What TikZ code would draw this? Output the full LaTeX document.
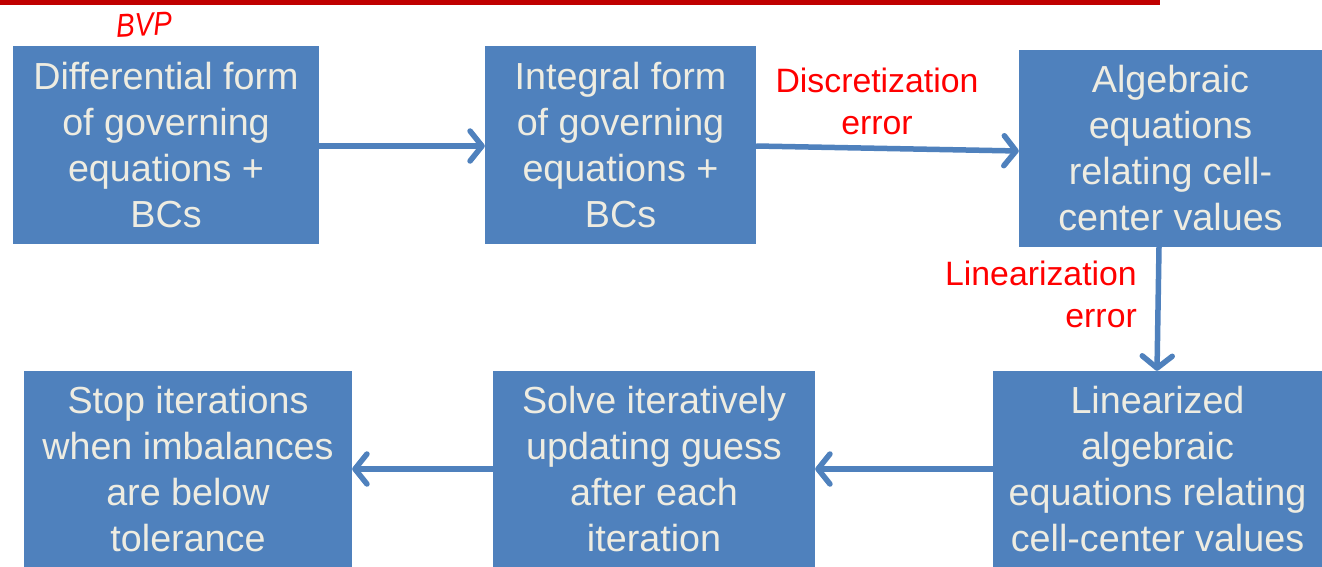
\documentclass[tikz,border=0pt]{standalone}
\usepackage{fontspec}
\setmainfont{Liberation Sans}
\usetikzlibrary{arrows.meta}
\definecolor{boxblue}{HTML}{4F81BD}
\definecolor{boxtext}{HTML}{EEECE1}
\definecolor{barred}{HTML}{C00000}
\tikzset{
  flowbox/.style={fill=boxblue, draw=none, text=boxtext, align=center, inner sep=0pt,
    font=\fontsize{37.7}{46}\selectfont},
  flowarrow/.style={draw=boxblue, line width=5.5pt,
    -{Straight Barb[length=12pt,width=30pt,line cap=round,line join=round]}},
  errlabel/.style={text=red, inner sep=0pt, font=\fontsize{33.8}{42}\selectfont}
}
\begin{document}
\begin{tikzpicture}[x=1pt,y=-1pt]
\useasboundingbox (0,0) rectangle (1322,566);
\fill[white] (0,0) rectangle (1322,566);
% top bar
\fill[barred] (0,0) rectangle (1160,5);
% handwritten note
\node[text=red, inner sep=0pt, rotate=3, xscale=0.85, font=\fontsize{33}{33}\selectfont\itshape] (bvp) at (144,25) {BVP};
% boxes
\node[flowbox, minimum width=306pt, minimum height=198pt] (b1) at (166,145) {Differential form\\of governing\\equations +\\BCs};
\node[flowbox, minimum width=271pt, minimum height=198pt] (b2) at (620.5,145) {Integral form\\of governing\\equations +\\BCs};
\node[flowbox, minimum width=303pt, minimum height=197pt] (b3) at (1170.5,148.5) {Algebraic\\equations\\relating cell-\\center values};
\node[flowbox, minimum width=329pt, minimum height=196pt] (b6) at (1157.5,469) {Linearized\\algebraic\\equations relating\\cell-center values};
\node[flowbox, minimum width=322pt, minimum height=196pt] (b5) at (654,469) {Solve iteratively\\updating guess\\after each\\iteration};
\node[flowbox, minimum width=328pt, minimum height=196pt] (b4) at (188,469) {Stop iterations\\when imbalances\\are below\\tolerance};
% error labels
\node[errlabel, align=center] (disc) at (877,101) {Discretization\\error};
\node[errlabel, align=right, anchor=east] (lin) at (1137,294) {Linearization\\error};
% arrows
\coordinate (a1s) at (b1.east |- 0,146);
\coordinate (a1e) at (b2.west |- 0,146);
\draw[flowarrow] (a1s) -- (a1e);
\coordinate (a2s) at (b2.east |- 0,146);
\coordinate (a2e) at (b3.west |- 0,151);
\draw[flowarrow] (a2s) -- (a2e);
\coordinate (a3s) at (1159,0 |- b3.south);
\coordinate (a3e) at (1157,0 |- b6.north);
\draw[flowarrow] (a3s) -- (a3e);
\coordinate (a4s) at (b6.west |- 0,469);
\coordinate (a4e) at (b5.east |- 0,469);
\draw[flowarrow] (a4s) -- (a4e);
\coordinate (a5s) at (b5.west |- 0,469);
\coordinate (a5e) at (b4.east |- 0,469);
\draw[flowarrow] (a5s) -- (a5e);
\end{tikzpicture}
\end{document}
